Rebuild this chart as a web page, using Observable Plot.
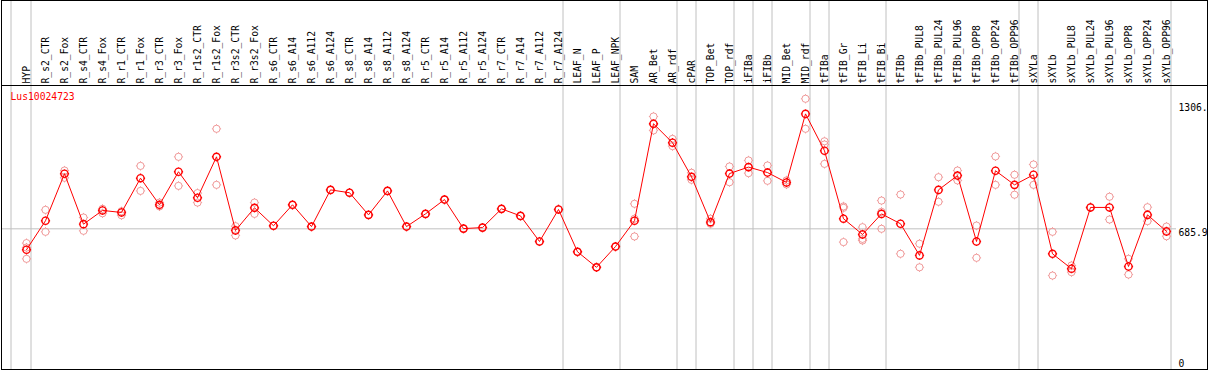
<!DOCTYPE html>
<html>
<head>
<meta charset="utf-8">
<script src="https://cdn.jsdelivr.net/npm/d3@7"></script>
<script src="https://cdn.jsdelivr.net/npm/@observablehq/plot@0.6"></script>
<style>
  html, body { margin: 0; padding: 0; background: white; }
  svg { display: block; }
</style>
</head>
<body>
<div id="chart"></div>
<script>
const title = "Lus10024723";
const categories = ["HYP","R_s2_CTR","R_s2_Fox","R_s4_CTR","R_s4_Fox","R_r1_CTR","R_r1_Fox","R_r3_CTR","R_r3_Fox","R_r1s2_CTR","R_r1s2_Fox","R_r3s2_CTR","R_r3s2_Fox","R_s6_CTR","R_s6_A14","R_s6_A112","R_s6_A124","R_s8_CTR","R_s8_A14","R_s8_A112","R_s8_A124","R_r5_CTR","R_r5_A14","R_r5_A112","R_r5_A124","R_r7_CTR","R_r7_A14","R_r7_A112","R_r7_A124","LEAF_N","LEAF_P","LEAF_NPK","SAM","AR_Bet","AR_rdf","cPAR","TOP_Bet","TOP_rdf","iFIBa","iFIBb","MID_Bet","MID_rdf","tFIBa","tFIB_Gr","tFIB_Li","tFIB_Bi","tFIBb","tFIBb_PUL8","tFIBb_PUL24","tFIBb_PUL96","tFIBb_OPP8","tFIBb_OPP24","tFIBb_OPP96","sXYLa","sXYLb","sXYLb_PUL8","sXYLb_PUL24","sXYLb_PUL96","sXYLb_OPP8","sXYLb_OPP24","sXYLb_OPP96"];
const means = [582,726,959,709,777,767,937,805,969,840,1043,678,790,701,805,697,879,865,755,874,697,760,831,687,692,785,750,623,782,572,495,598,726,1207,1113,944,719,960,992,965,916,1256,1073,736,658,760,711,554,879,950,623,974,904,954,562,488,792,792,499,755,673];
const rep1 = [615,780,975,742,785,773,998,816,1043,863,1182,699,816,701,805,697,879,865,755,874,697,760,831,687,692,785,750,623,782,572,495,598,810,1243,1132,964,736,995,1025,1000,926,1331,1120,797,694,826,856,612,942,975,702,1045,954,1005,671,504,792,845,537,793,697];
const rep2 = [593,671,939,676,763,753,874,797,899,816,904,653,760,701,805,697,879,865,755,874,697,760,831,687,692,785,750,623,782,572,495,598,736,1174,1096,929,711,917,962,924,906,1182,1104,790,636,770,562,495,820,926,542,904,855,904,454,471,792,732,459,724,649];
const rep3 = [537,null,null,null,null,null,null,null,null,null,null,null,null,null,null,null,null,null,null,null,null,null,null,null,null,null,null,null,null,null,null,null,648,1205,null,null,null,null,null,null,null,null,1008,620,628,686,null,null,null,null,null,null,null,null,null,null,null,null,null,null,null];
const groupEnds = ["HYP","R_r7_A124","LEAF_NPK","AR_rdf","cPAR","TOP_rdf","iFIBa","iFIBb","MID_rdf","tFIBa","tFIB_Bi","tFIBb_OPP96","sXYLa","sXYLb_OPP96"];
const tickValues = [1306, 685.9, 0];
const tickLabels = ["1306.", "685.9", "0"];
const refLine = 685.9;

const meanRows = categories.map((c, i) => ({cat: c, value: means[i]}));
const reps = [];
categories.forEach((c, i) => {
  for (const r of [rep1, rep2, rep3]) if (r[i] != null) reps.push({cat: c, value: r[i]});
});
const ticks = tickValues.map((v, i) => ({v, label: tickLabels[i]}));

const sun = {
  draw(ctx, size) {
    const r = Math.sqrt(size / Math.PI), t = 1;
    ctx.moveTo(r, 0); ctx.arc(0, 0, r, 0, 2 * Math.PI);
    ctx.moveTo(0, -r); ctx.lineTo(0, -r - t);
    ctx.moveTo(0, r); ctx.lineTo(0, r + t);
    ctx.moveTo(-r, 0); ctx.lineTo(-r - t, 0);
    ctx.moveTo(r, 0); ctx.lineTo(r + t, 0);
  }
};

const chart = Plot.plot({
  width: 1209, height: 370,
  marginTop: 85, marginLeft: 1, marginRight: 2, marginBottom: 1,
  x: {type: "point", domain: categories, range: [26, 1166], padding: 0, round: false, axis: null},
  y: {domain: [0, 1306], range: [366.6, 103.3], axis: null},
  style: {fontFamily: "DejaVu Sans Mono", fontSize: "9.7px", background: "white", color: "black"},
  marks: [
    Plot.ruleX(groupEnds, {x: d => d, dx: 4.5, insetTop: -85, stroke: "#c0c0c0", strokeOpacity: 1}),
    Plot.ruleX([categories[0]], {x: d => d, dx: -15.5, insetTop: -85, stroke: "#c0c0c0", strokeOpacity: 1}),
    Plot.ruleY([refLine], {y: d => d, insetRight: 31, stroke: "#c0c0c0", strokeOpacity: 1}),
    Plot.frame({insetTop: -85, stroke: "black", strokeOpacity: 1}),
    Plot.frame({stroke: "black", strokeOpacity: 1}),
    Plot.text(categories, {x: d => d, frameAnchor: "top", dy: -2, rotate: -90, textAnchor: "start", lineAnchor: "middle", fill: "black"}),
    Plot.text([title], {frameAnchor: "top-left", dx: 9, dy: 11, fill: "red", textAnchor: "start", lineAnchor: "middle"}),
    Plot.dot(reps, {x: "cat", y: "value", r: 3.6, symbol: sun, fill: "none", stroke: "#f09a9a", strokeWidth: 1}),
    Plot.line(meanRows, {x: "cat", y: "value", stroke: "red", strokeWidth: 1}),
    Plot.dot(meanRows, {x: "cat", y: "value", r: 3.6, symbol: sun, fill: "none", stroke: "red", strokeWidth: 1.4}),
    Plot.text(ticks.slice(0, 2), {y: "v", text: "label", frameAnchor: "right", dx: -29, textAnchor: "start", lineAnchor: "top", fill: "black"}),
    Plot.text(ticks.slice(2), {y: "v", text: "label", frameAnchor: "right", dx: -29, textAnchor: "start", lineAnchor: "bottom", fill: "black"})
  ]
});
document.getElementById("chart").append(chart);
</script>
</body>
</html>
